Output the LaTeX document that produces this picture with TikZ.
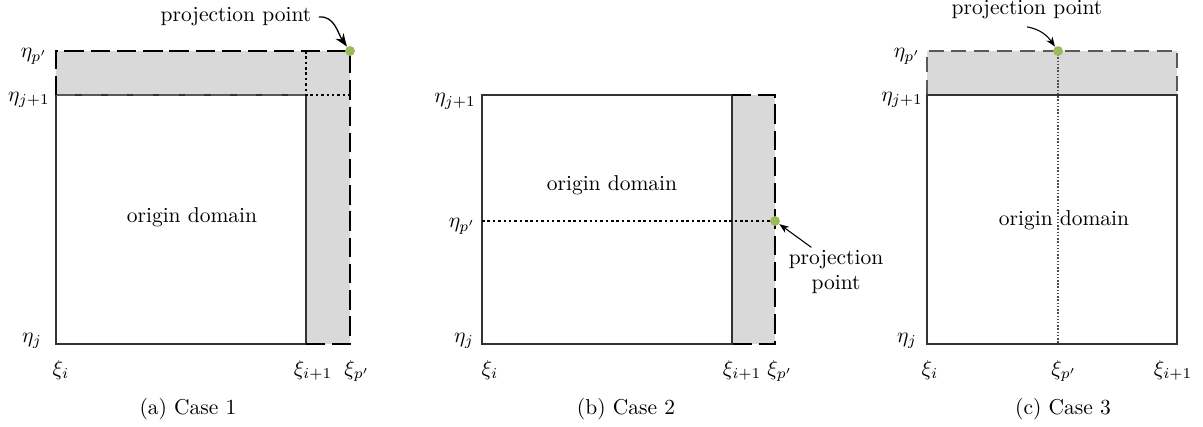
\documentclass[tikz,border=0pt]{standalone}
\usetikzlibrary{arrows.meta, positioning}
\definecolor{mygreen}{RGB}{155,187,89}
\definecolor{mygray}{RGB}{217,217,217}
\tikzset{
  domainedge/.style={draw=black!80, line width=0.5pt},
  bandedge/.style={black, thick, dash pattern=on 9pt off 3.2pt},
  thinedge/.style={black!65, line width=0.5pt, dash pattern=on 7pt off 3.6pt},
  guideline/.style={black, thick, dash pattern=on 1.2pt off 1.3pt},
  thinguide/.style={black!70, line width=0.5pt, dash pattern=on 0.7pt off 0.8pt},
  projdot/.style={circle, fill=mygreen, inner sep=0pt, minimum size=4.6pt},
  lbl/.style={anchor=base, inner sep=0pt},
  projarrow/.style={-{Stealth[length=4.5pt]}, line width=0.5pt},
}
\begin{document}
\begin{tikzpicture}[x=4.65pt,y=4.65pt]
\useasboundingbox (0,0) rectangle (120.3,42.7);

% (a) Case 1
\fill[mygray] (5.6,33.2) rectangle (35.0,37.6);
\fill[mygray] (30.6,8.3) rectangle (35.0,33.2);
\draw[domainedge] (5.6,8.3) rectangle (30.6,33.2);
\draw[thinedge, dash pattern=on 9pt off 3pt] (5.6,33.2) -- (30.6,33.2);
\draw[bandedge] (5.6,33.2) -- (5.6,37.6) -- (35.0,37.6) -- (35.0,8.3) -- (30.6,8.3);
\draw[guideline] (30.6,37.6) -- (30.6,33.2) -- (35.0,33.2);
\node[projdot] (dotA) at (35.0,37.6) {};
\node[lbl] (etaPa) at (3.4,36.9) {$\eta_{p'}$};
\node[lbl] (etaJ1a) at (2.9,32.55) {$\eta_{j+1}$};
\node[lbl] (etaJa) at (3.2,8.45) {$\eta_j$};
\node[lbl] (xiIa) at (6.1,5.15) {$\xi_i$};
\node[lbl] (xiI1a) at (31.3,5.15) {$\xi_{i+1}$};
\node[lbl] (xiPa) at (35.7,5.15) {$\xi_{p'}$};
\node (orga) at (19.2,21.0) {origin domain};
\node (ppA) at (23.6,41.0) {projection point};
\draw[-{Stealth[length=6pt]}, semithick] (ppA.east) to[out=5,in=125] (dotA);
\node (capa) at (18.8,1.8) {(a) Case 1};

% (b) Case 2
\fill[mygray] (73.2,8.3) rectangle (77.5,33.2);
\draw[domainedge] (48.2,8.3) rectangle (73.2,33.2);
\draw[bandedge] (73.2,33.2) -- (77.5,33.2) -- (77.5,8.3) -- (73.2,8.3);
\draw[guideline] (48.2,20.6) -- (77.5,20.6);
\node[projdot] (dotB) at (77.5,20.6) {};
\node[lbl] (etaJ1b) at (45.5,32.4) {$\eta_{j+1}$};
\node[lbl] (etaPb) at (46.2,19.9) {$\eta_{p'}$};
\node[lbl] (etaJb) at (46.4,8.45) {$\eta_j$};
\node[lbl] (xiIb) at (49.0,5.15) {$\xi_i$};
\node[lbl] (xiI1b) at (74.2,5.15) {$\xi_{i+1}$};
\node[lbl] (xiPb) at (78.0,5.15) {$\xi_{p'}$};
\node (orgb) at (61.2,24.2) {origin domain};
\node[align=center, inner sep=1pt] (ppB) at (83.6,15.5) {projection\\point};
\draw[projarrow] (ppB.135) -- (dotB);
\node (capb) at (62.6,1.8) {(b) Case 2};

% (c) Case 3
\fill[mygray] (92.7,33.2) rectangle (117.7,37.6);
\draw[thinedge] (92.7,33.2) -- (92.7,37.6) -- (117.7,37.6) -- (117.7,33.2);
\draw[domainedge] (92.7,8.3) rectangle (117.7,33.2);
\draw[thinguide] (105.8,37.6) -- (105.8,8.3);
\node[projdot] (dotC) at (105.8,37.6) {};
\node[lbl] (etaPc) at (90.7,36.9) {$\eta_{p'}$};
\node[lbl] (etaJ1c) at (90.2,32.55) {$\eta_{j+1}$};
\node[lbl] (etaJc) at (90.7,8.45) {$\eta_j$};
\node[lbl] (xiIc) at (93.0,5.15) {$\xi_i$};
\node[lbl] (xiPc) at (106.4,5.15) {$\xi_{p'}$};
\node[lbl] (xiI1c) at (117.3,5.15) {$\xi_{i+1}$};
\node (orgc) at (106.4,20.7) {origin domain};
\node (ppC) at (102.7,41.7) {projection point};
\draw[projarrow] (ppC.south) to[out=-10,in=125] (dotC);
\node (capc) at (106.3,1.8) {(c) Case 3};
\end{tikzpicture}
\end{document}
